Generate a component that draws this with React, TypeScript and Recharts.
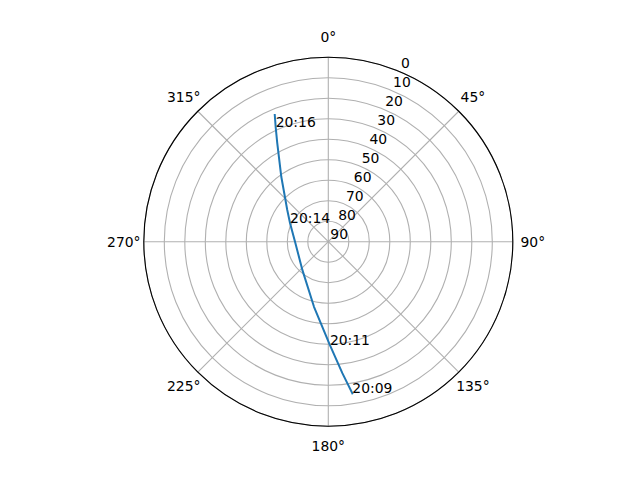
import React from "react";
import {
  PolarAngleAxis,
  PolarGrid,
  PolarRadiusAxis,
  Radar,
  RadarChart,
} from "recharts";

// satellite pass: azimuth (deg, clockwise from north) and elevation (deg)
const azimuth = [171.0, 173.9, 179.1, 192.4, 222.6, 269.5, 295.7, 307.7, 324.1, 332.6, 335.3, 337.1];
const elevation = [15.1, 25.5, 39.5, 57.5, 71.3, 73.8, 69.3, 64.7, 50.9, 35.9, 28.6, 22.9];
const timeLabels = ["20:09", "", "20:11", "", "", "", "20:14", "", "", "", "20:16", ""];

const angleTicks = [0, 45, 90, 135, 180, 225, 270, 315];
const elevationTicks = [0, 10, 20, 30, 40, 50, 60, 70, 80, 90];

const track = azimuth.map((az, i) => ({
  az,
  el: elevation[i],
  time: timeLabels[i],
}));

const FONT = "DejaVu Sans, sans-serif";
const FONT_SIZE = 13.9;

function AngleTick({ x, y, payload }: any) {
  return (
    <text
      x={x}
      y={y}
      textAnchor="middle"
      dominantBaseline="central"
      fontSize={FONT_SIZE}
      fontFamily={FONT}
      fill="#000"
    >
      {`${payload.value}°`}
    </text>
  );
}

function RadiusTick({ x, y, payload }: any) {
  return (
    <text
      x={x + 2}
      y={y - 3}
      textAnchor="start"
      fontSize={FONT_SIZE}
      fontFamily={FONT}
      fill="#000"
    >
      {90 - payload.value}
    </text>
  );
}

function TrackShape({ points }: any) {
  if (!points || points.length === 0) return null;
  const d = points
    .map((p: any, i: number) => `${i === 0 ? "M" : "L"}${p.x},${p.y}`)
    .join(" ");
  return (
    <g>
      <path
        d={d}
        fill="none"
        stroke="#1f77b4"
        strokeWidth={2}
        strokeLinejoin="round"
        strokeLinecap="square"
      />
      {points.map((p: any, i: number) =>
        p.payload.time ? (
          <text
            key={i}
            x={p.x}
            y={p.y}
            fontSize={FONT_SIZE}
            fontFamily={FONT}
            fill="#000"
          >
            {p.payload.time}
          </text>
        ) : null
      )}
    </g>
  );
}

export default function App() {
  return (
    <div
      style={{
        position: "absolute",
        left: 0,
        top: 0,
        width: 640,
        height: 480,
        background: "#fff",
      }}
    >
      <RadarChart
        width={640}
        height={480}
        data={track}
        cx={328.3}
        cy={241.7}
        innerRadius={0}
        outerRadius={184.5}
        startAngle={90}
        endAngle={-270}
        margin={{ top: 0, right: 0, bottom: 0, left: 0 }}
      >
        <PolarGrid gridType="circle" stroke="#b0b0b0" strokeWidth={1.1} />
        <PolarAngleAxis
          dataKey="az"
          type="number"
          domain={[0, 360]}
          ticks={angleTicks}
          tick={<AngleTick />}
          tickLine={false}
          tickSize={20}
          axisLineType="circle"
          axisLine={{ stroke: "#000", strokeWidth: 1.1 }}
        />
        <PolarRadiusAxis
          type="number"
          domain={[0, 90]}
          ticks={elevationTicks.map((e) => 90 - e)}
          angle={67.5}
          axisLine={false}
          tickLine={false}
          tick={<RadiusTick />}
        />
        <Radar
          dataKey={(d: any) => 90 - d.el}
          shape={(props: any) => <TrackShape {...props} />}
          isAnimationActive={false}
        />
      </RadarChart>
    </div>
  );
}
